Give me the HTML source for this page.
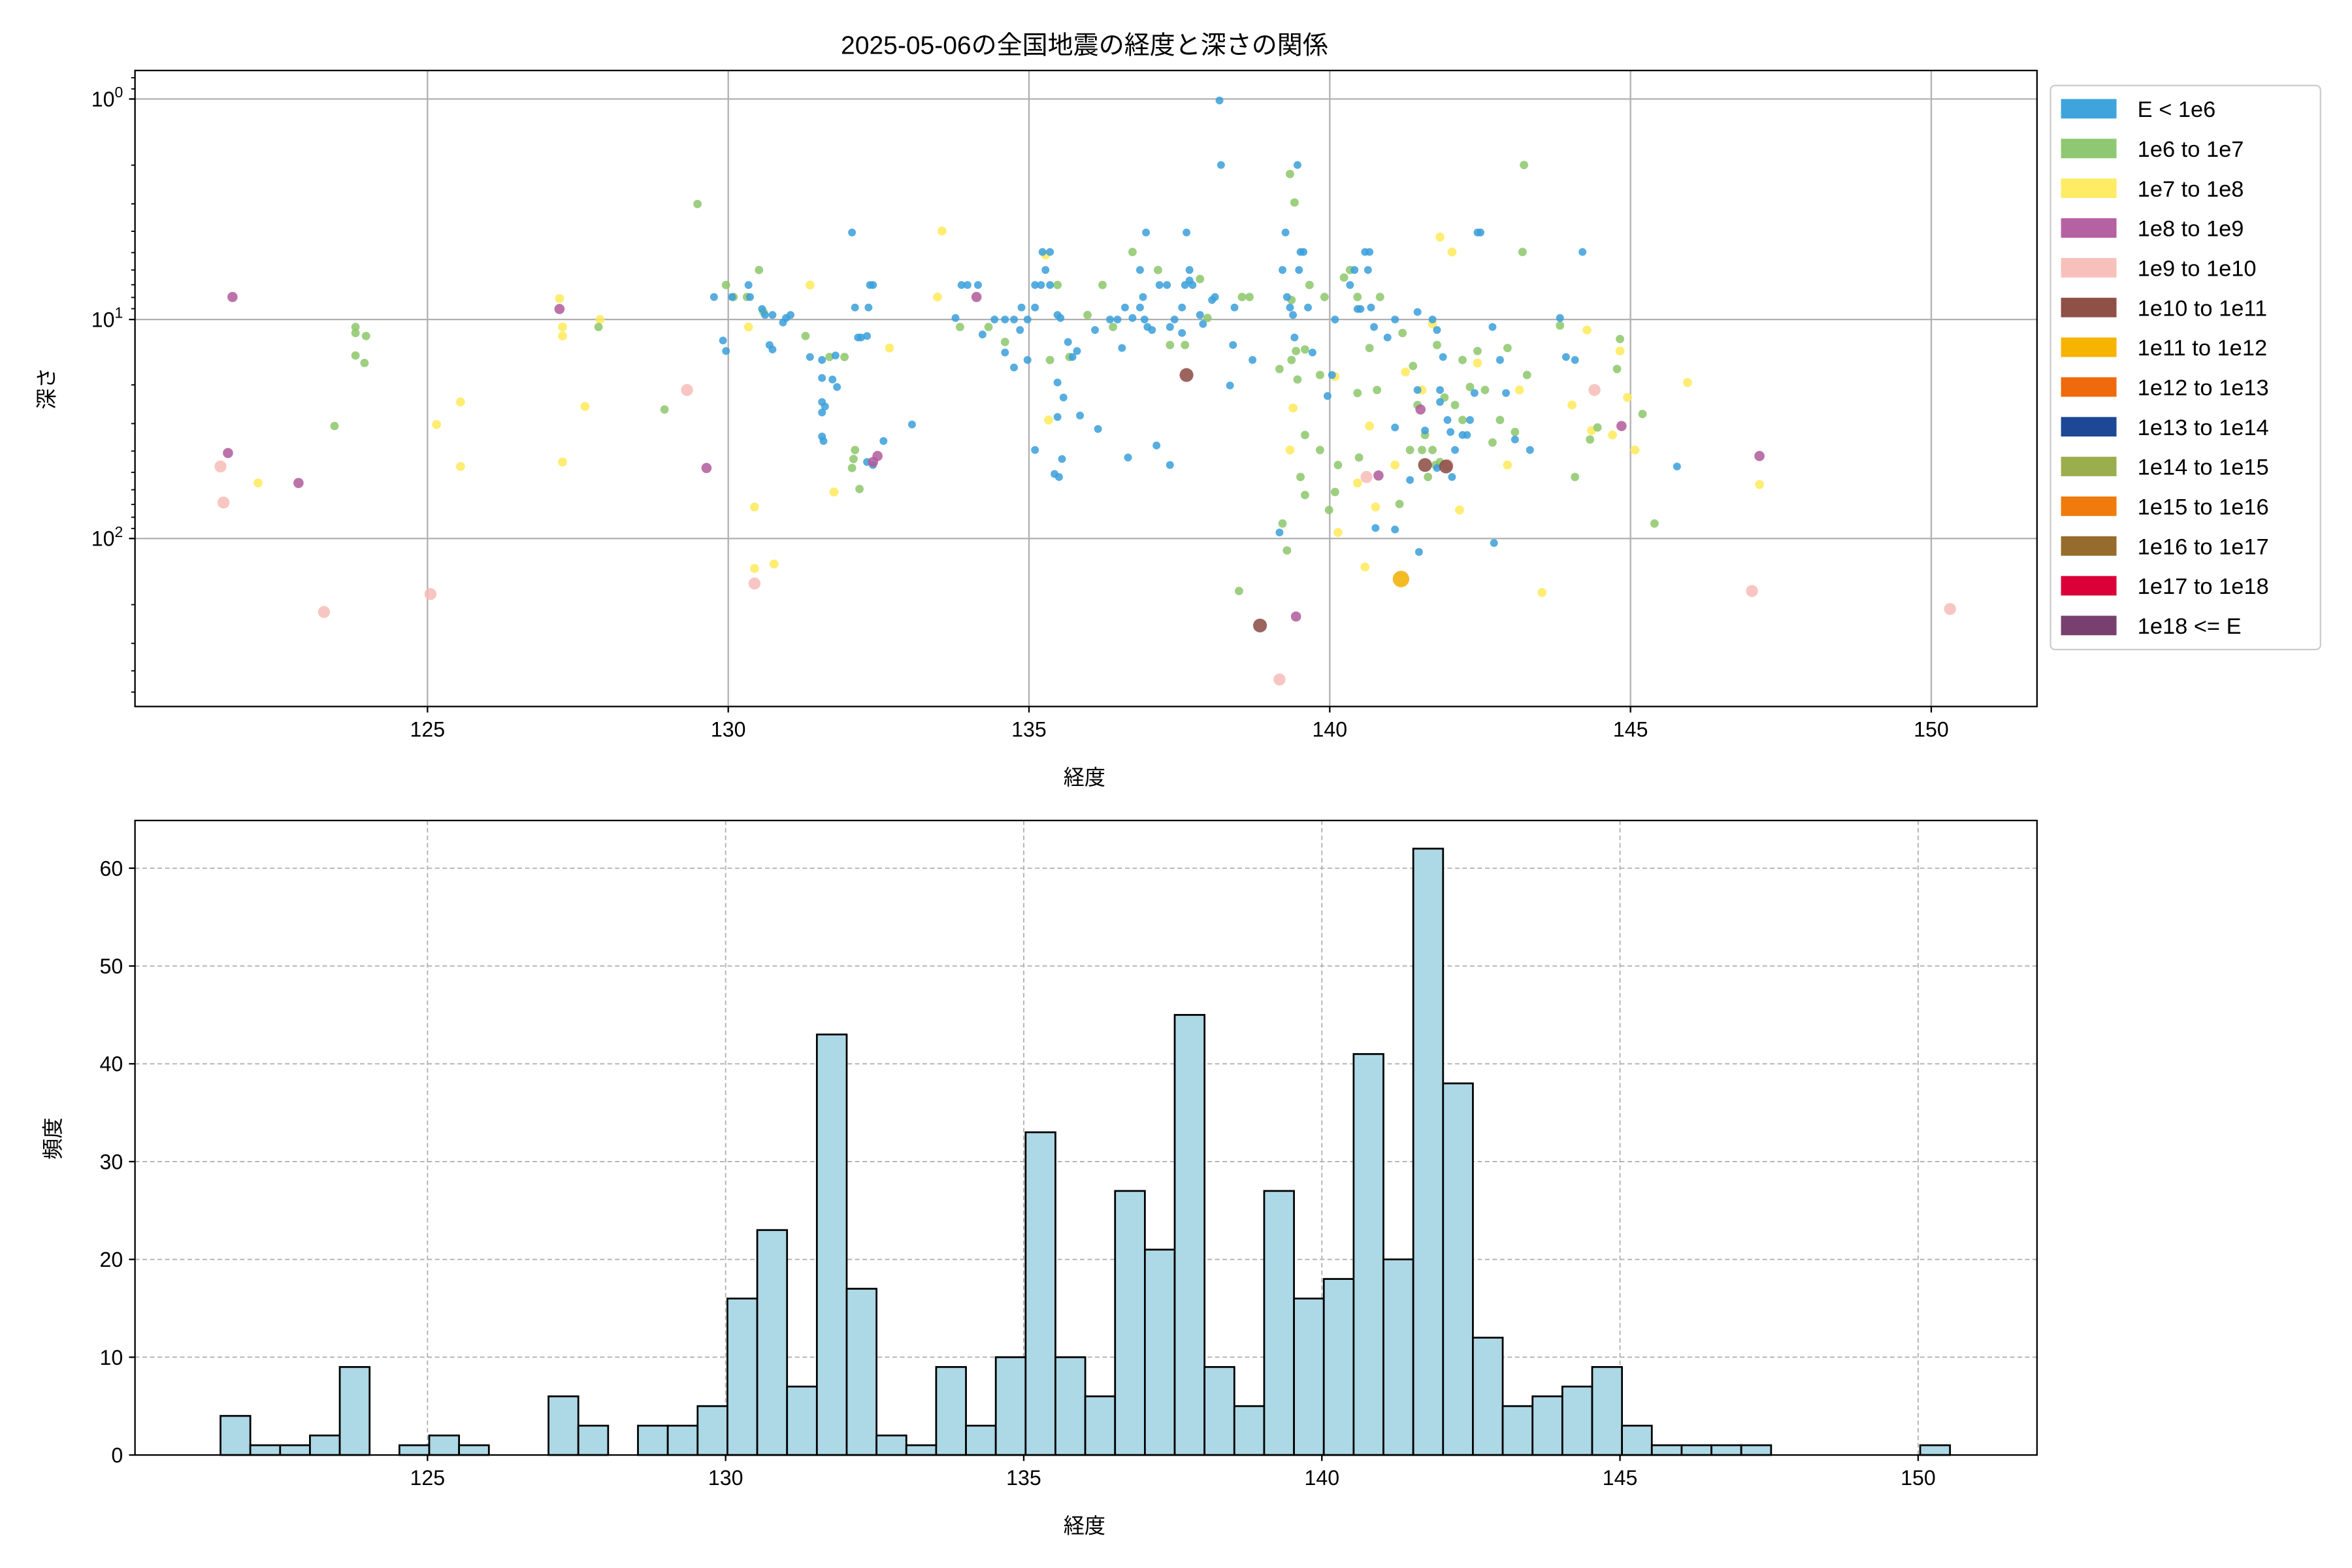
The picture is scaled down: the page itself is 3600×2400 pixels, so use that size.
<!DOCTYPE html>
<html><head><meta charset="utf-8"><style>
html,body{margin:0;padding:0;background:#fff}
svg{display:block}
text{font-family:"Liberation Sans","Noto Sans CJK JP",sans-serif;fill:#000}
</style></head><body>
<svg id="s" xmlns="http://www.w3.org/2000/svg" width="3600" height="2400" viewBox="0 0 1568 1045.33" preserveAspectRatio="none">
<rect width="1568" height="1046" fill="#fff"/>
<g id="g1"></g>
<text x="723" y="36" font-size="17" text-anchor="middle">2025-05-06の全国地震の経度と深さの関係</text>
<text x="723" y="523" font-size="14" text-anchor="middle">経度</text>
<text x="723" y="1022" font-size="14" text-anchor="middle">経度</text>
<text transform="translate(36,259) rotate(-90)" font-size="14" text-anchor="middle">深さ</text>
<text transform="translate(40,759) rotate(-90)" font-size="14" text-anchor="middle">頻度</text>
</svg>
<script>
const NS="http://www.w3.org/2000/svg";const g=document.getElementById('g1');
function el(t,a,txt){const e=document.createElementNS(NS,t);for(const k in a)e.setAttribute(k,a[k]);if(txt!==undefined)e.textContent=txt;g.appendChild(e);return e;}
const L=90,R=1358,T=47,B=471;
const tx=[125,130,135,140,145,150];
tx.forEach(v=>{const x=285+40.1*(v-125);el('line',{x1:x,x2:x,y1:T,y2:B,stroke:'#b0b0b0','stroke-width':1});el('line',{x1:x,x2:x,y1:B,y2:B+4,stroke:'#000'});el('text',{x:x,y:B+20,'font-size':14,'text-anchor':'middle'},String(v));});
const dy=[66,213,359];
dy.forEach((y,i)=>{el('line',{x1:L,x2:R,y1:y,y2:y,stroke:'#b0b0b0','stroke-width':1});el('line',{x1:L-4,x2:L,y1:y,y2:y,stroke:'#000'});
const t=el('text',{x:L-8,y:y+5,'font-size':14,'text-anchor':'end'});t.innerHTML='10<tspan dy="-6" font-size="10">'+i+'</tspan>';});
for(let d=-1;d<3;d++)for(let m=2;m<10;m++){const y=66+146.5*(d+Math.log10(m));if(y>T&&y<B)el('line',{x1:L-2.5,x2:L,y1:y,y2:y,stroke:'#000','stroke-width':0.8});}
const C={b:['#3a9fdb',2.6],g:['#8dc76b',2.8],y:['#ffea5a',3],p:['#b05a9a',3.4],k:['#f7bcb7',4],r:['#8a4a42',4.6],o:['#f2ae00',5.5]};
const P={
k:[[147,311],[149,335],[216,408],[287,396],[458,260],[503,389],[911,318],[1063,260],[1168,394],[1300,406],[853,453],[965,310]],
y:[[172,322],[291,283],[307,268],[307,311],[373,199],[375,218],[375,224],[375,308],[390,271],[400,213],[503,338],[503,379],[516,376],[499,218],[540,190],[556,328],[593,232],[628,154],[697,170],[699,280],[625,198],[1075,290],[1058,220],[1048,270],[1080,234],[1090,300],[1125,255],[1173,323],[1028,395],[1085,265],[1061,287],[890,251],[913,284],[917,338],[910,378],[905,322],[930,310],[948,260],[960,158],[968,168],[973,340],[985,242],[1005,310],[1013,260],[862,272],[860,300],[892,355],[937,248],[955,216]],
g:[[237,218],[237,222],[237,237],[243,242],[244,224],[223,284],[399,218],[443,273],[465,136],[484,190],[489,198],[506,180],[498,198],[509,208],[537,224],[553,238],[563,238],[570,300],[573,326],[568,312],[569,306],[659,218],[640,218],[670,228],[700,240],[713,238],[705,190],[735,190],[742,218],[725,210],[755,168],[772,180],[780,230],[790,230],[800,186],[805,212],[828,198],[833,198],[860,116],[863,135],[861,200],[873,190],[883,198],[896,185],[861,240],[864,234],[865,253],[858,367],[855,349],[853,246],[870,233],[880,250],[886,340],[890,328],[900,180],[905,198],[920,198],[935,222],[942,244],[950,290],[955,300],[957,310],[960,308],[963,265],[970,270],[975,280],[980,258],[985,234],[990,260],[995,295],[1000,280],[1010,288],[1016,110],[1018,250],[1005,232],[1015,168],[1050,318],[1060,293],[1065,285],[1078,246],[1080,226],[1095,276],[1103,349],[1040,217],[892,310],[906,305],[948,300],[952,318],[958,230],[940,300],[945,270],[975,240],[870,290],[880,300],[867,318],[870,330],[933,336],[905,262],[913,232],[918,260],[826,394]],
b:[[476,198],[482,227],[484,234],[488,198],[499,190],[500,198],[508,206],[510,210],[513,230],[515,233],[524,212],[522,215],[515,210],[527,210],[540,238],[548,240],[548,252],[548,268],[550,271],[548,275],[548,291],[549,294],[555,253],[557,237],[558,258],[568,155],[570,205],[572,225],[574,225],[578,224],[579,205],[582,190],[580,190],[578,308],[582,310],[589,294],[608,283],[637,212],[641,190],[645,190],[652,190],[663,213],[670,213],[676,213],[681,205],[685,213],[690,190],[694,190],[697,180],[695,168],[690,205],[700,190],[700,168],[705,210],[707,212],[712,228],[715,238],[718,234],[730,220],[740,213],[745,213],[750,205],[755,212],[760,180],[762,198],[760,205],[763,213],[765,218],[764,155],[768,220],[773,190],[778,190],[780,218],[783,213],[788,205],[790,190],[793,180],[795,190],[791,155],[793,187],[800,210],[802,216],[808,200],[810,198],[820,257],[822,230],[835,240],[857,155],[855,180],[858,198],[860,205],[862,210],[863,225],[866,180],[867,168],[869,168],[872,205],[875,235],[885,264],[888,250],[890,213],[900,190],[903,180],[905,206],[907,206],[910,168],[912,180],[913,168],[914,205],[916,218],[925,225],[930,213],[945,208],[955,213],[958,220],[962,238],[960,260],[965,280],[967,288],[970,300],[975,290],[978,290],[980,280],[983,262],[985,155],[987,155],[995,218],[1000,240],[1004,262],[1010,293],[1020,300],[1040,212],[1044,238],[1050,240],[1055,168],[1118,311],[996,362],[853,355],[917,352],[930,353],[946,368],[968,318],[958,312],[940,320],[930,285],[960,268],[945,260],[950,287],[813,67],[814,110],[865,110],[823,205],[788,222],[748,232],[720,277],[705,278],[732,286],[752,305],[771,297],[780,310],[690,300],[703,316],[706,318],[708,306],[670,235],[676,245],[680,220],[655,223],[705,255],[709,265],[685,240]],
p:[[155,198],[152,302],[199,322],[373,206],[471,312],[585,304],[582,308],[651,198],[919,317],[947,273],[1081,284],[1173,304],[864,411]],
r:[[840,417],[791,250],[950,310],[964,311]],
o:[[934,386]]};
['k','y','g','b','p','r','o'].forEach(c=>P[c].forEach(([x,y])=>el('circle',{cx:x,cy:y,r:C[c][1],fill:C[c][0],'fill-opacity':0.85})));
el('rect',{x:L,y:T,width:R-L,height:B-T,fill:'none',stroke:'#000','stroke-width':1});
el('rect',{x:1367,y:57,width:180,height:376,fill:'#fff',stroke:'#ccc','stroke-width':1,rx:3});
const lg=[['E < 1e6','#3fa4dc'],['1e6 to 1e7','#8ec872'],['1e7 to 1e8','#ffeb64'],['1e8 to 1e9','#b562a3'],['1e9 to 1e10','#f8c0bb'],['1e10 to 1e11','#8f5048'],['1e11 to 1e12','#f6b300'],['1e12 to 1e13','#ee6a0c'],['1e13 to 1e14','#1d4896'],['1e14 to 1e15','#9bae4e'],['1e15 to 1e16','#f07b0c'],['1e16 to 1e17','#966c2c'],['1e17 to 1e18','#db0038'],['1e18 <= E','#77406e']];
lg.forEach(([t,c],i)=>{const y=72+26.5*i;el('rect',{x:1374,y:y-6,width:37,height:13,fill:c});el('text',{x:1425,y:y+6,'font-size':15},t);});
const L2=90,R2=1358,T2=547,B2=970;
[125,130,135,140,145,150].forEach(v=>{const x=285+39.75*(v-125);el('line',{x1:x,x2:x,y1:T2,y2:B2,stroke:'#b0b0b0','stroke-width':0.8,'stroke-dasharray':'3,2'});el('line',{x1:x,x2:x,y1:B2,y2:B2+4,stroke:'#000'});el('text',{x:x,y:B2+20,'font-size':14,'text-anchor':'middle'},String(v));});
for(let v=0;v<=60;v+=10){const y=B2-v*6.52;el('line',{x1:L2,x2:R2,y1:y,y2:y,stroke:'#b0b0b0','stroke-width':0.8,'stroke-dasharray':'3,2'});el('line',{x1:L2-4,x2:L2,y1:y,y2:y,stroke:'#000'});el('text',{x:L2-8,y:y+5,'font-size':14,'text-anchor':'end'},String(v));}
const H=[4,1,1,2,9,0,1,2,1,0,0,6,3,0,3,3,5,16,23,7,43,17,2,1,9,3,10,33,10,6,27,21,45,9,5,27,16,18,41,20,62,38,12,5,6,7,9,3,1,1,1,1,0,0,0,0,0,1];
const w=(1300-147)/58;
H.forEach((h,i)=>{if(!h)return;const x=147+i*w;el('rect',{x:x,y:B2-h*6.52,width:w,height:h*6.52,fill:'#add8e6',stroke:'#000','stroke-width':1.2});});
el('rect',{x:L2,y:T2,width:R2-L2,height:B2-T2,fill:'none',stroke:'#000','stroke-width':1});
</script>
</body></html>
